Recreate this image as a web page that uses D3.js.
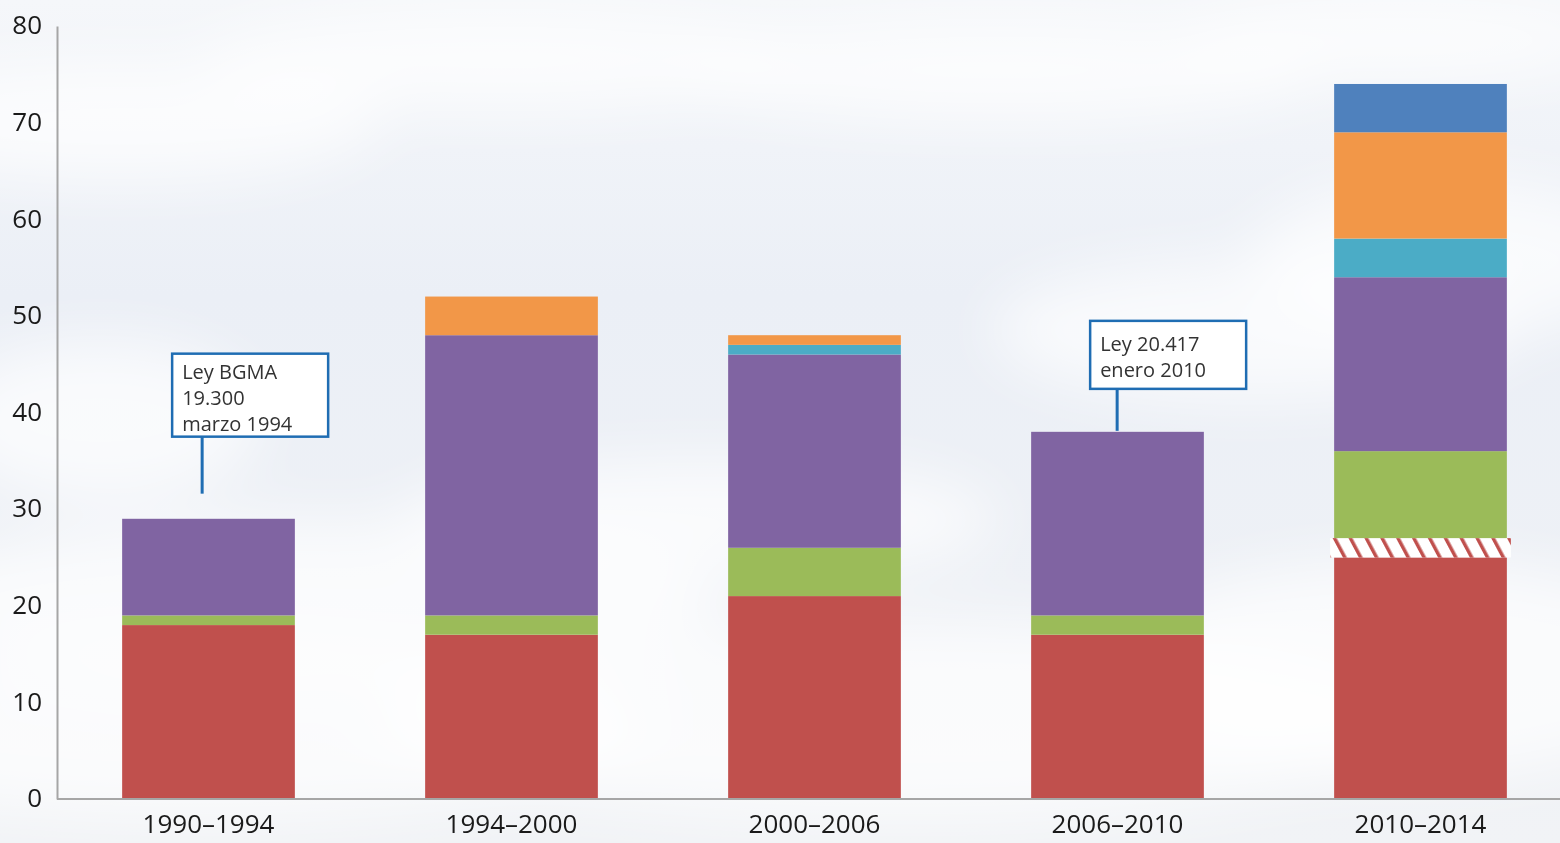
<!DOCTYPE html>
<html>
<head>
<meta charset="utf-8">
<script src="https://cdn.jsdelivr.net/npm/d3@7"></script>
<style>
  html, body { margin: 0; padding: 0; background: #f1f3f7; }
  svg { display: block; }
</style>
</head>
<body>
<svg id="grafico"></svg>
<script>
// datos
const periodos = ["1990–1994", "1994–2000", "2000–2006", "2006–2010", "2010–2014"];
const rojo     = [18, 17, 21, 17, 25];
const rayado   = [0, 0, 0, 0, 2];
const verde    = [1, 2, 5, 2, 9];
const morado   = [10, 29, 20, 19, 18];
const celeste  = [0, 0, 1, 0, 4];
const naranja  = [0, 4, 1, 0, 11];
const azul     = [0, 0, 0, 0, 5];
const yTicks   = [0, 10, 20, 30, 40, 50, 60, 70, 80];

// anotaciones (periodo, valor donde apunta, lineas)
const notas = [
  { periodo: "1990–1994", punta: 31.6, lineas: ["Ley BGMA", "19.300", "marzo 1994"] },
  { periodo: "2006–2010", punta: 38.1, lineas: ["Ley 20.417", "enero 2010"] }
];

const width = 1560;
const height = 843;

const series = ["rojo", "rayado", "verde", "morado", "celeste", "naranja", "azul"];
const colores = {
  rojo: "#c0504d", rayado: "url(#rayas)", verde: "#9bbb59", morado: "#8064a2",
  celeste: "#4bacc6", naranja: "#f29748", azul: "#4f81bd"
};
const valores = { rojo, rayado, verde, morado, celeste, naranja, azul };

const tabla = periodos.map(function(p, i) {
  const fila = { periodo: p };
  series.forEach(function(s) { fila[s] = valores[s][i]; });
  return fila;
});

const svg = d3.select("#grafico")
              .attr("width", width)
              .attr("height", height);

const defs = svg.append("defs");

// fondo de cielo
const grad = defs.append("linearGradient")
                 .attr("id", "cielo")
                 .attr("x1", 0).attr("y1", 0).attr("x2", 0).attr("y2", 1);
grad.append("stop").attr("offset", "0%").attr("stop-color", "#f5f7fa");
grad.append("stop").attr("offset", "35%").attr("stop-color", "#ebeff6");
grad.append("stop").attr("offset", "70%").attr("stop-color", "#eef1f6");
grad.append("stop").attr("offset", "100%").attr("stop-color", "#f1f3f6");

defs.append("filter").attr("id", "difuso")
    .attr("x", "-50%").attr("y", "-50%").attr("width", "200%").attr("height", "200%")
    .append("feGaussianBlur").attr("stdDeviation", 30);

const rayas = defs.append("pattern")
                  .attr("id", "rayas")
                  .attr("patternUnits", "userSpaceOnUse")
                  .attr("width", 14).attr("height", 14)
                  .attr("patternTransform", "rotate(-28)");
rayas.append("rect").attr("width", 14).attr("height", 14).attr("fill", "#ffffff");
rayas.append("rect").attr("width", 3.5).attr("height", 14).attr("fill", "#c0504d");

svg.append("rect").attr("width", width).attr("height", height).attr("fill", "url(#cielo)");

const nubes = [
  [120, 120, 260, 60], [500, 60, 300, 50], [1000, 70, 320, 50], [1400, 40, 220, 40],
  [300, 600, 420, 80], [700, 520, 300, 60], [1250, 330, 260, 70], [1450, 260, 200, 80],
  [200, 730, 440, 90], [900, 720, 520, 100], [1400, 670, 300, 110], [100, 420, 160, 80]
];
svg.append("g").attr("filter", "url(#difuso)")
   .selectAll("ellipse")
   .data(nubes)
   .enter().append("ellipse")
   .attr("cx", d => d[0]).attr("cy", d => d[1])
   .attr("rx", d => d[2]).attr("ry", d => d[3])
   .attr("fill", "#ffffff")
   .attr("opacity", 0.7);

// escalas
const x = d3.scaleBand()
            .domain(periodos)
            .range([57, 57 + 5 * 303])
            .paddingInner(0.43)
            .paddingOuter(0.215);

const y = d3.scaleLinear()
            .domain([0, 80])
            .range([799, 26]);

const apilado = d3.stack().keys(series)(tabla);

const capas = svg.append("g")
                 .selectAll("g")
                 .data(apilado)
                 .enter().append("g")
                 .attr("fill", d => colores[d.key]);

capas.selectAll("rect")
     .data(d => d.filter(p => p[1] > p[0]).map(p => ({ p: p, key: d.key })))
     .enter().append("rect")
     .attr("x", d => d.key === "rayado" ? x(d.p.data.periodo) - 4 : x(d.p.data.periodo))
     .attr("width", d => d.key === "rayado" ? x.bandwidth() + 8 : x.bandwidth())
     .attr("y", d => y(d.p[1]))
     .attr("height", d => y(d.p[0]) - y(d.p[1]));

// ejes
const ejeY = svg.append("g")
                .attr("transform", "translate(57,0)")
                .call(d3.axisLeft(y).tickValues(yTicks).tickSize(0).tickPadding(15));
ejeY.select(".domain").attr("stroke", "#a6a6a6").attr("stroke-width", 2);

const ejeX = svg.append("g")
                .attr("transform", "translate(0,799)")
                .call(d3.axisBottom(x).tickSize(0).tickPadding(21).tickSizeOuter(0));
ejeX.select(".domain").attr("stroke", "#a6a6a6").attr("stroke-width", 2)
    .attr("d", "M57,0H1560");

svg.selectAll(".tick text")
   .attr("font-family", "'Open Sans', 'Noto Sans', sans-serif")
   .attr("font-size", 26)
   .attr("fill", "#1a1a1a");
ejeX.selectAll(".tick text").attr("dy", "0.5em");
ejeY.selectAll(".tick text").attr("dy", "0.3em");

// anotaciones
const azulNota = "#1f6db3";
const altoCaja = { 3: 83, 2: 68 };
notas.forEach(function(n, k) {
  const cx = x(n.periodo) + (k === 0 ? 80 : 86);
  const bx = k === 0 ? x(n.periodo) + 50 : x(n.periodo) + 59;
  const bw = 156;
  const bh = altoCaja[n.lineas.length];
  const largo = k === 0 ? 57 : 42;
  const yTop = y(n.punta) - largo - bh;
  const centro = yTop + bh / 2;
  const g = svg.append("g");
  g.append("line")
   .attr("x1", cx).attr("x2", cx)
   .attr("y1", yTop + bh).attr("y2", y(n.punta))
   .attr("stroke", azulNota).attr("stroke-width", 3);
  g.append("rect")
   .attr("x", bx).attr("y", yTop)
   .attr("width", bw).attr("height", bh)
   .attr("fill", "#ffffff")
   .attr("stroke", azulNota).attr("stroke-width", 2.5);
  g.selectAll("text")
   .data(n.lineas)
   .enter().append("text")
   .attr("x", bx + 10)
   .attr("y", (d, i) => centro + 9.5 + (i - (n.lineas.length - 1) / 2) * 26)
   .attr("font-family", "'Open Sans', 'Noto Sans', sans-serif")
   .attr("font-size", 20)
   .attr("fill", "#333333")
   .text(d => d);
});
</script>
</body>
</html>
